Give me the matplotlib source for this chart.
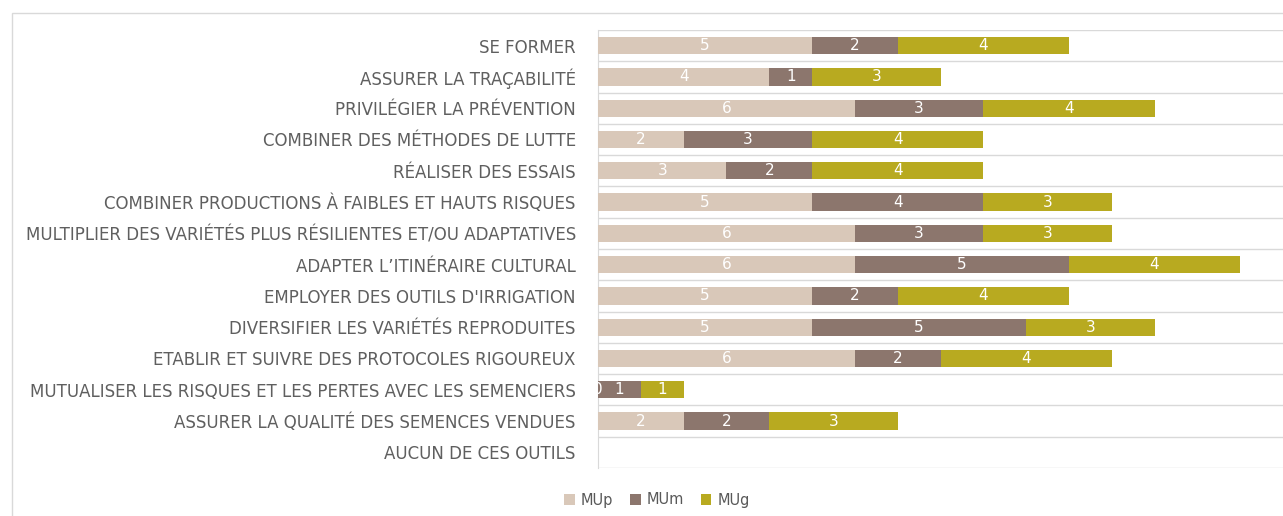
import matplotlib.pyplot as plt
import numpy as np
from matplotlib.patches import Rectangle

categories = [
    "SE FORMER",
    "ASSURER LA TRAÇABILITÉ",
    "PRIVILÉGIER LA PRÉVENTION",
    "COMBINER DES MÉTHODES DE LUTTE",
    "RÉALISER DES ESSAIS",
    "COMBINER PRODUCTIONS À FAIBLES ET HAUTS RISQUES",
    "MULTIPLIER DES VARIÉTÉS PLUS RÉSILIENTES ET/OU ADAPTATIVES",
    "ADAPTER L’ITINÉRAIRE CULTURAL",
    "EMPLOYER DES OUTILS D'IRRIGATION",
    "DIVERSIFIER LES VARIÉTÉS REPRODUITES",
    "ETABLIR ET SUIVRE DES PROTOCOLES RIGOUREUX",
    "MUTUALISER LES RISQUES ET LES PERTES AVEC LES SEMENCIERS",
    "ASSURER LA QUALITÉ DES SEMENCES VENDUES",
    "AUCUN DE CES OUTILS",
]
mup = [5, 4, 6, 2, 3, 5, 6, 6, 5, 5, 6, 0, 2, 0]
mum = [2, 1, 3, 3, 2, 4, 3, 5, 2, 5, 2, 1, 2, 0]
mug = [4, 3, 4, 4, 4, 3, 3, 4, 4, 3, 4, 1, 3, 0]

series = [("MUp", mup, "#D9C8B9"), ("MUm", mum, "#8C766D"), ("MUg", mug, "#B8AA20")]

fig = plt.figure(figsize=(12.83, 5.16), dpi=100)
ax = fig.add_axes([598 / 1283, 1 - 468 / 516, 1 - 598 / 1283, 438 / 516])

# outer chart frame
fig.patches.append(Rectangle((12 / 1283, -0.1), 1.1, 1 - 13 / 516 + 0.1,
                             transform=fig.transFigure, fill=False,
                             edgecolor="#D9D9D9", lw=1.0))

y = np.arange(len(categories))
left = np.zeros(len(categories))
for name, vals, color in series:
    vals = np.array(vals)
    ax.barh(y, vals, left=left, height=0.55, color=color, label=name, zorder=3)
    for yi, (l, v) in enumerate(zip(left, vals)):
        if v > 0 or (name == "MUp" and categories[yi].startswith("MUTUALISER")):
            ax.text(l + v / 2, yi, f"{v}", ha="center", va="center",
                    color="white", fontsize=11, zorder=4, clip_on=True)
    left = left + vals

ax.set_xlim(0, 16)
ax.set_ylim(len(categories) - 0.5, -0.5)
ax.set_yticks(y)
ax.set_yticklabels(categories, fontsize=12, color="#5F5F5F")
ax.tick_params(axis="y", length=0, pad=16)
ax.set_xticks([])
for yb in np.arange(-0.5, len(categories), 1):
    ax.axhline(yb, color="#D9D9D9", lw=1.0, zorder=1)
for side in ["top", "right", "bottom"]:
    ax.spines[side].set_visible(False)
ax.spines["left"].set_color("#D9D9D9")

fig.legend(loc="center", bbox_to_anchor=(657 / 1283, 1 - 500 / 516), ncol=3,
           frameon=False, fontsize=10.5, handlelength=0.7, handleheight=0.7,
           handletextpad=0.4, columnspacing=1.2, labelcolor="#595959")

fig.savefig("out.png", dpi=100)
